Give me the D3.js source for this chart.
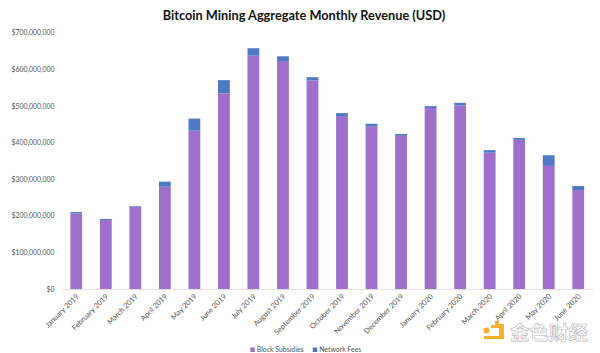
<!DOCTYPE html>
<html>
<head>
<meta charset="utf-8">
<script src="https://cdn.jsdelivr.net/npm/d3@7"></script>
<style>
  html, body { margin: 0; padding: 0; background: #fff; }
  svg { display: block; }
  text { font-family: Lato, "Open Sans", sans-serif; }
</style>
</head>
<body>
<svg id="chart"></svg>
<script>
const months = ["January 2019", "February 2019", "March 2019", "April 2019", "May 2019", "June 2019",
    "July 2019", "August 2019", "September 2019", "October 2019", "November 2019", "December 2019",
    "January 2020", "February 2020", "March 2020", "April 2020", "May 2020", "June 2020"];
const blockSubsidies = [206, 188, 224, 279, 432, 534, 637, 622, 569, 472, 443, 418, 494, 501, 372, 407, 336, 270];
const networkFees = [4, 3, 2, 14, 33, 36, 20, 13, 9, 8, 8, 5, 5, 7, 7, 5, 29, 11];
const yTicks = [0, 100, 200, 300, 400, 500, 600, 700];
const seriesNames = ["Block Subsidies", "Network Fees"];
const seriesColors = ["#9e70cc", "#4f79c4"];

const width = 600, height = 353;
const margin = { top: 32.5, right: 7, bottom: 64, left: 61.5 };

const svg = d3.select("#chart").attr("width", width).attr("height", height);
const chart = svg.append("g").attr("transform", `translate(${margin.left}, ${margin.top})`);
const plotWidth = width - margin.left - margin.right;
const plotHeight = height - margin.top - margin.bottom;

const rows = months.map((m, i) => ({ month: m, sub: blockSubsidies[i], fee: networkFees[i] }));

const xscale = d3.scaleBand().domain(months).range([0, plotWidth]).paddingInner(0.6).paddingOuter(0.3);
const yscale = d3.scaleLinear().domain([0, 700]).range([plotHeight, 0]);
const stacked = d3.stack().keys(["sub", "fee"])(rows);

chart.selectAll(".layer")
    .data(stacked)
    .enter().append("g")
    .attr("class", "layer")
    .attr("fill", (d, i) => seriesColors[i])
    .selectAll("rect")
    .data(d => d)
    .enter().append("rect")
    .attr("x", d => xscale(d.data.month))
    .attr("y", d => yscale(d[1]))
    .attr("width", xscale.bandwidth())
    .attr("height", d => yscale(d[0]) - yscale(d[1]));

const yaxis = d3.axisLeft(yscale)
    .tickValues(yTicks)
    .tickSize(0)
    .tickPadding(7)
    .tickFormat(d => d === 0 ? "$0" : "$" + d3.format(",")(d * 1000000));
chart.append("g").call(yaxis)
    .call(g => g.select(".domain").remove())
    .selectAll("text")
    .attr("fill", "#555")
    .style("font-size", "6.9px");

const xaxis = d3.axisBottom(xscale).tickSize(0).tickPadding(7);
const xgroup = chart.append("g").attr("transform", `translate(0, ${plotHeight})`).call(xaxis);
xgroup.select(".domain").attr("stroke", "#d9d9d9").attr("stroke-width", 0.8);
xgroup.selectAll("text")
    .attr("fill", "#555")
    .attr("text-anchor", "end")
    .attr("dx", "-3.5px")
    .attr("dy", "0.8px")
    .attr("transform", "rotate(-45)")
    .style("font-size", "7.4px");

svg.append("text")
    .attr("x", 304)
    .attr("y", 20)
    .attr("text-anchor", "middle")
    .attr("fill", "#111")
    .style("font-size", "12.75px")
    .style("font-weight", "700")
    .text("Bitcoin Mining Aggregate Monthly Revenue (USD)");

// legend
const legendX = [250.3, 312.7];
const legend = svg.selectAll(".legend")
    .data(seriesNames)
    .enter().append("g")
    .attr("class", "legend")
    .attr("transform", (d, i) => `translate(${legendX[i]}, 351.5)`);
legend.append("rect")
    .attr("x", 0).attr("y", -4)
    .attr("width", 4.5).attr("height", 4.5)
    .attr("fill", (d, i) => seriesColors[i]);
legend.append("text")
    .attr("x", 6.5).attr("y", 0)
    .attr("fill", "#555")
    .style("font-size", "6.9px")
    .text(d => d);

// watermark
const mark = svg.append("g").attr("transform", "translate(483, 320)");
mark.append("path")
    .attr("d", "M8 5h4V1h4v3h5v15H1v-3h15V8H8z")
    .attr("fill", "#f5b12e");
mark.append("circle").attr("cx", 3.5).attr("cy", 10.5).attr("r", 3).attr("fill", "#f5b12e");
svg.append("text")
    .attr("x", 510)
    .attr("y", 340)
    .attr("fill", "#fff")
    .attr("stroke", "#bdbdbd")
    .attr("stroke-width", 0.7)
    .style("font-family", '"Noto Sans CJK SC"')
    .style("font-size", "19.5px")
    .style("font-weight", "700")
    .text("金色财经");
</script>
</body>
</html>
